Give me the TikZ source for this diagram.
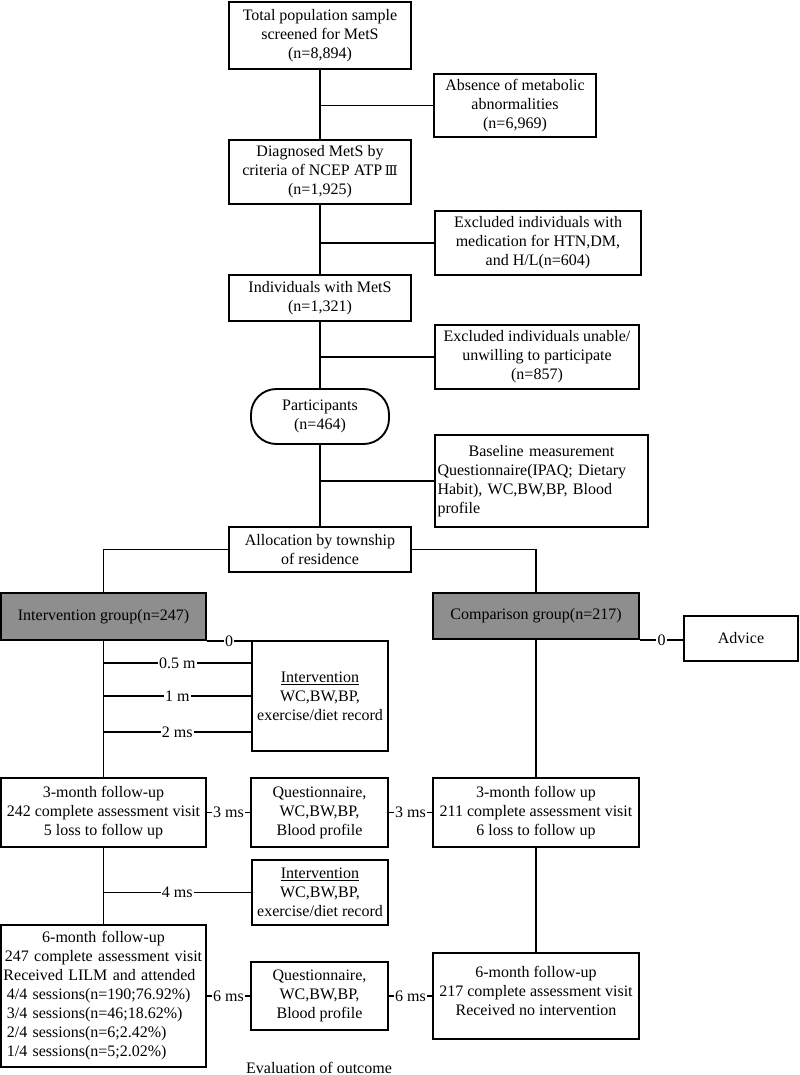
\documentclass[tikz,border=0pt]{standalone}
\usepackage{fontspec}
\setmainfont{Liberation Serif}
\newfontfamily\dvs{DejaVu Serif}
\newcommand\fs{\fontsize{12pt}{14.25pt}\selectfont}
\definecolor{boxgray}{HTML}{8E8E8E}
\begin{document}
\begin{tikzpicture}[x=0.75pt,y=-0.75pt,
  box/.style={draw, line width=1.4pt, fill=white, align=center, inner sep=2pt, font=\fs},
  gbox/.style={box, fill=boxgray},
  lab/.style={fill=white, inner sep=1pt, font=\fs},
  conn/.style={line width=1.4pt}]
\useasboundingbox (0,0) rectangle (800,1075);
% main column
\node[box, minimum width=136.5pt, minimum height=50.25pt] (total) at (320,35.5) {Total population sample\\screened for MetS\\(n=8,894)};
\node[box, minimum width=121.5pt, minimum height=47.25pt] (absence) at (515,105.5) {Absence of metabolic\\abnormalities\\(n=6,969)};
\node[box, minimum width=136.5pt, minimum height=48pt] (diag) at (320,172) {Diagnosed MetS by\\criteria of NCEP ATP\,{\dvs\fontsize{10pt}{14pt}\selectfont Ⅲ}\\(n=1,925)};
\node[box, minimum width=154.5pt, minimum height=48pt] (exhtn) at (538,243) {Excluded individuals with\\medication for HTN,DM,\\and H/L(n=604)};
\node[box, minimum width=136.5pt, minimum height=34.5pt] (indiv) at (320,298) {Individuals with MetS\\(n=1,321)};
\node[box, minimum width=153pt, minimum height=48pt] (exun) at (537,357) {Excluded individuals unable/\\unwilling to participate\\(n=857)};
\node[box, rounded corners=19pt, minimum width=103.5pt, minimum height=41.25pt] (part) at (320,416.5) {Participants\\(n=464)};
\node[box, text width=156pt, align=left, minimum height=69pt] (base) at (541.5,481) {\makebox[\linewidth][c]{Baseline measurement}\\Questionnaire(IPAQ; Dietary\\Habit), WC,BW,BP, Blood\\profile};
\node[box, minimum width=136.5pt, minimum height=33.75pt] (alloc) at (320,549.5) {Allocation by township\\of residence};
% groups
\node[gbox, minimum width=153.75pt, minimum height=35.25pt] (intg) at (103.5,616.5) {Intervention group(n=247)};
\node[gbox, minimum width=154.5pt, minimum height=34.5pt] (comp) at (536,616) {Comparison group(n=217)};
\node[box, minimum width=85.5pt, minimum height=33.75pt] (advice) at (741,638.5) {Advice};
\node[box, minimum width=102pt, minimum height=82.5pt] (int1) at (320,696) {\underline{Intervention}\\WC,BW,BP,\\exercise/diet record};
% 3 months
\node[box, minimum width=153.75pt, minimum height=51.75pt] (tl) at (103.5,812.5) {3-month follow-up\\242 complete assessment visit\\5 loss to follow up};
\node[box, minimum width=102.75pt, minimum height=51.75pt] (q1) at (319.5,812.5) {Questionnaire,\\WC,BW,BP,\\Blood profile};
\node[box, minimum width=154.5pt, minimum height=51.75pt] (tr) at (536,812.5) {3-month follow up\\211 complete assessment visit\\6 loss to follow up};
\node[box, minimum width=102pt, minimum height=48.75pt] (int2) at (320,892.5) {\underline{Intervention}\\WC,BW,BP,\\exercise/diet record};
% 6 months
\node[box, text width=150pt, align=left, minimum height=106.5pt] (sl) at (103.5,996) {\makebox[\linewidth][c]{6-month follow-up}\\\makebox[\linewidth][c]{247 complete assessment visit}\\Received LILM and attended\\\hspace*{2.5pt}4/4 sessions(n=190;76.92\%)\\\hspace*{2.5pt}3/4 sessions(n=46;18.62\%)\\\hspace*{2.5pt}2/4 sessions(n=6;2.42\%)\\\hspace*{2.5pt}1/4 sessions(n=5;2.02\%)};
\node[box, minimum width=102.75pt, minimum height=51pt] (q2) at (319.5,996) {Questionnaire,\\WC,BW,BP,\\Blood profile};
\node[box, minimum width=154.5pt, minimum height=64.5pt] (sr) at (536,996) {6-month follow-up\\217 complete assessment visit\\Received no intervention\\[-6pt]\mbox{}};
\node[font=\fs, anchor=base, inner sep=0pt] (eval) at (319,1073.5) {Evaluation of outcome};
% main connectors
\draw[conn] (total.south) -- (diag.north);
\draw[conn] (diag.south) -- (indiv.north);
\draw[conn] (indiv.south) -- (part.north);
\draw[conn] (part.south) -- (alloc.north);
\draw[conn] (absence.west) -- (absence.west -| total.south);
\draw[conn] (exhtn.west) -- (exhtn.west -| diag.south);
\draw[conn] (exun.west) -- (exun.west -| indiv.south);
\draw[conn] (base.west) -- (base.west -| part.south);
\draw[conn] (alloc.west) -| (intg.north);
\draw[conn] (alloc.east) -| (comp.north);
% intervention column
\draw[conn] (intg.south) -- (tl.north);
\draw[conn] (tl.south) -- (sl.north);
\coordinate (c05) at (103.5,663);
\coordinate (c2) at (103.5,732);
\draw[conn] (intg.south east) -- (intg.south east -| int1.west) node[lab, midway] {0};
\draw[conn] (c05) -- (c05 -| int1.west) node[lab, midway] {0.5 m};
\draw[conn] (int1.west -| intg.south) -- (int1.west) node[lab, midway] {1 m};
\draw[conn] (c2) -- (c2 -| int1.west) node[lab, midway] {2 ms};
\draw[conn] (tl.east) -- (q1.west) node[lab, midway] {3 ms};
\draw[conn] (q1.east) -- (tr.west) node[lab, midway] {3 ms};
\draw[conn] (int2.west -| tl.south) -- (int2.west) node[lab, midway] {4 ms};
\draw[conn] (sl.east) -- (q2.west) node[lab, midway] {6 ms};
\draw[conn] (q2.east) -- (sr.west) node[lab, midway] {6 ms};
% comparison column
\draw[conn] (comp.south) -- (tr.north);
\draw[conn] (tr.south) -- (sr.north);
\draw[conn] (comp.south east) -- (comp.south east -| advice.west) node[lab, midway] {0};
\end{tikzpicture}
\end{document}
